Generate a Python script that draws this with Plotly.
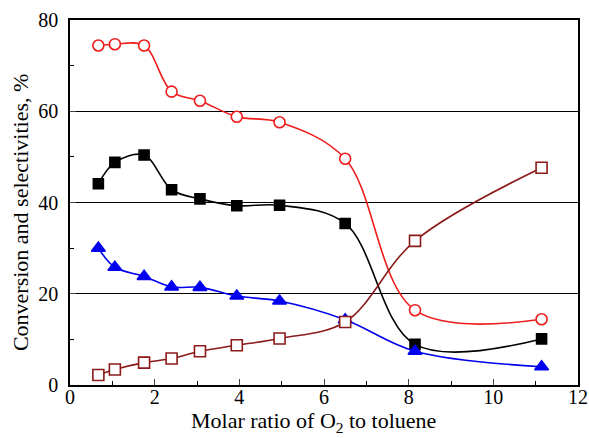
import plotly.graph_objects as go

x_vals = [0.67, 1.06, 1.75, 2.40, 3.07, 3.94, 4.95, 6.50, 8.15, 11.14]
sel_red = [74.4, 74.7, 74.4, 64.3, 62.3, 58.8, 57.6, 49.6, 16.4, 14.4]
conv_black = [44.1, 48.8, 50.4, 42.8, 40.8, 39.3, 39.4, 35.4, 8.9, 10.1]
sel_blue = [30.0, 25.8, 23.8, 21.5, 21.4, 19.5, 18.4, 14.3, 7.4, 4.0]
sel_darkred = [2.2, 3.4, 4.9, 5.8, 7.4, 8.7, 10.2, 13.8, 31.6, 47.6]

x_title = "Molar ratio of O<sub>2</sub> to toluene"
y_title = "Conversion and selectivities, %"

series = [
    (sel_red, "#ee1c1c", "circle", 11, True),
    (conv_black, "#000000", "square", 10, False),
    (sel_blue, "#0000ee", "triangle-up", 12, False),
    (sel_darkred, "#8b1a1a", "square", 11, True),
]

fig = go.Figure()
for ys, col, sym, sz, hollow in series:
    fig.add_trace(go.Scatter(
        x=x_vals, y=ys, mode="lines+markers",
        line=dict(color=col, width=1.6, shape="spline", smoothing=1.0),
        marker=dict(symbol=sym, size=sz, color="white" if hollow else col,
                    line=dict(color=col, width=1.6)),
        showlegend=False,
    ))

font = "Liberation Serif, Times New Roman, serif"
fig.update_layout(
    width=589, height=438,
    margin=dict(l=70, r=11, t=20, b=53),
    plot_bgcolor="white", paper_bgcolor="white",
    font=dict(family=font, size=20, color="black"),
    xaxis=dict(
        range=[0, 12], dtick=2, ticks="inside", ticklen=6, tickwidth=1,
        showline=True, linecolor="black", linewidth=1.5, mirror=True,
        showgrid=False, zeroline=False, automargin=False, ticklabelstandoff=-7,
        minor=dict(dtick=1, ticks="inside", ticklen=4, tickcolor="black", showgrid=False),
    ),
    yaxis=dict(
        range=[0, 80], dtick=20, ticks="inside", ticklen=6, tickwidth=1,
        showline=True, linecolor="black", linewidth=1.5, mirror=True,
        showgrid=True, gridcolor="black", gridwidth=1, zeroline=False,
        automargin=False, ticklabelstandoff=6,
        minor=dict(dtick=10, ticks="inside", ticklen=4, tickcolor="black", showgrid=False),
    ),
    annotations=[
        dict(text=x_title, xref="paper", yref="paper", x=0.480, y=-0.058,
             xanchor="center", yanchor="top", showarrow=False, font=dict(size=22)),
        dict(text=y_title, xref="paper", yref="paper", x=-0.0984, y=0.471,
             xanchor="center", yanchor="middle", textangle=-90, showarrow=False,
             font=dict(size=22)),
    ],
)
fig.write_html("out.html")
